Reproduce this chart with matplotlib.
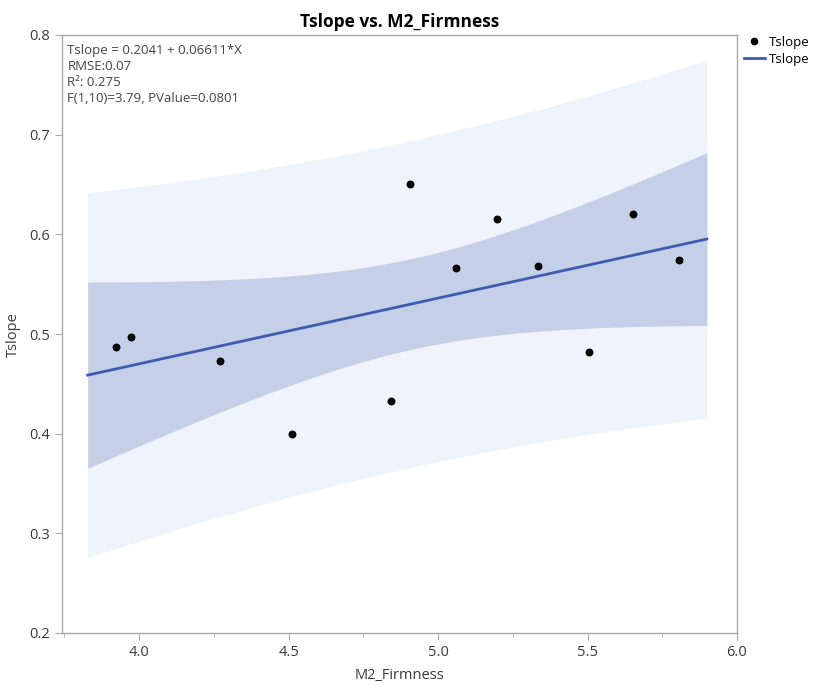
import numpy as np
import matplotlib
matplotlib.use("Agg")
import matplotlib.pyplot as plt
from matplotlib.lines import Line2D

plt.rcParams['font.family'] = ['Open Sans', 'DejaVu Sans']

# data
firmness = [3.922, 3.973, 4.272, 4.513, 4.844, 4.907, 5.061, 5.197, 5.334, 5.505, 5.651, 5.805]
tslope = [0.487, 0.497, 0.473, 0.400, 0.433, 0.650, 0.566, 0.615, 0.568, 0.482, 0.620, 0.574]
x_ticks = [4.0, 4.5, 5.0, 5.5, 6.0]
y_ticks = [0.2, 0.3, 0.4, 0.5, 0.6, 0.7, 0.8]
stats_lines = ["Tslope = 0.2041 + 0.06611*X", "RMSE:0.07", "R²: 0.275",
               "F(1,10)=3.79, PValue=0.0801"]
T_CRIT = 2.2281  # t(0.975, df=10)

x = np.array(firmness)
y = np.array(tslope)
n = len(x)
b1, b0 = np.polyfit(x, y, 1)
resid = y - (b0 + b1 * x)
s = np.sqrt(np.sum(resid ** 2) / (n - 2))
xm = x.mean()
sxx = np.sum((x - xm) ** 2)
rng = x.max() - x.min()
xs = np.linspace(x.min() - 0.05 * rng, x.max() + 0.05 * rng, 200)
fit = b0 + b1 * xs
se_mean = s * np.sqrt(1 / n + (xs - xm) ** 2 / sxx)
se_pred = s * np.sqrt(1 + 1 / n + (xs - xm) ** 2 / sxx)

fig = plt.figure(figsize=(8.19, 6.85), dpi=100)
ax = fig.add_axes([62 / 819, 52 / 685, 675 / 819, 598 / 685])

ax.fill_between(xs, fit - T_CRIT * se_pred, fit + T_CRIT * se_pred, color='#eef3fc', lw=0, zorder=1)
ax.fill_between(xs, fit - T_CRIT * se_mean, fit + T_CRIT * se_mean, color='#c5cfe7', lw=0, zorder=2)
ax.plot(xs, fit, color='#3c5cb4', lw=2, zorder=3)
ax.scatter(x, y, s=22, color='black', zorder=4)

ax.set_xlim(3.742, 6.0)
ax.set_ylim(0.2, 0.8)
ax.set_xticks(x_ticks)
ax.set_xticklabels([f"{v:.1f}" for v in x_ticks])
ax.set_xticks([v + 0.25 for v in [3.5] + x_ticks[:-1]], minor=True)
ax.set_yticks(y_ticks)
ax.set_yticklabels([f"{v:.1f}" for v in y_ticks])
for sp in ax.spines.values():
    sp.set_color('#a8a8a8')
    sp.set_linewidth(1.0)
ax.tick_params(axis='both', which='major', length=5, color='#a8a8a8', labelsize=10.5, labelcolor='#3a3a3a')
ax.tick_params(axis='x', which='minor', length=3, color='#a8a8a8')

ax.set_xlabel("M2_Firmness", fontsize=10.5, color='#3a3a3a', labelpad=6)
fig.text(13 / 819, 0.512, "Tslope", rotation=90, ha='center', va='center',
         fontsize=10.5, color='#3a3a3a')
ax.set_title("Tslope vs. M2_Firmness", fontsize=12.5, fontweight='bold', pad=6)

ax.text(0.008, 0.985, "\n".join(stats_lines), transform=ax.transAxes, va='top', ha='left',
        fontsize=9.5, color='#444444', linespacing=1.3)

handles = [Line2D([], [], marker='o', ls='none', color='black', markersize=4.5),
           Line2D([], [], color='#3c5cb4', lw=2)]
fig.legend(handles, ["Tslope", "Tslope"], loc='upper left', bbox_to_anchor=(737 / 819 + 0.002, 0.955),
           frameon=False, fontsize=9.5, handlelength=1.6, handletextpad=0.3, labelspacing=0.3,
           borderaxespad=0)

fig.savefig("out.png", dpi=100)
